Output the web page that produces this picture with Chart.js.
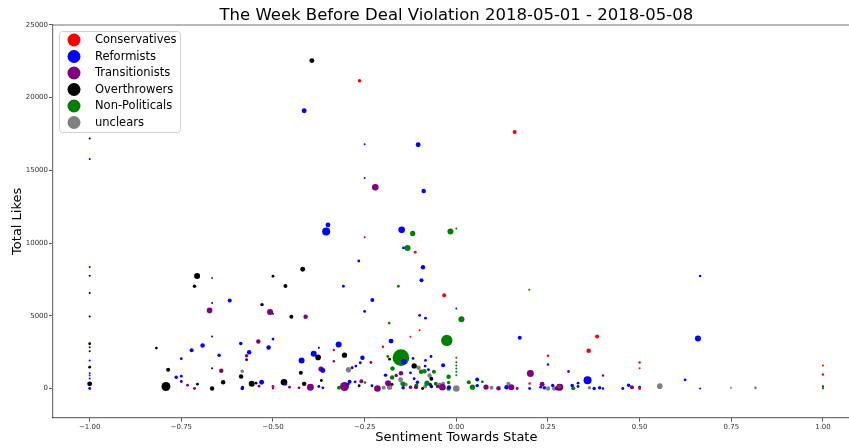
<!DOCTYPE html>
<html><head><meta charset="utf-8">
<script src="https://cdn.jsdelivr.net/npm/chart.js@4/dist/chart.umd.min.js"></script>
<style>
html,body{margin:0;padding:0;background:#fff;overflow:hidden;width:849px;height:448px;}
#wrap{position:relative;width:849px;height:448px;overflow:hidden;background:#fff;}
canvas{display:block;}
</style></head><body>
<div id="wrap"><canvas id="c" width="868" height="448"></canvas></div>
<script>
const titleText = 'The Week Before Deal Violation 2018-05-01 - 2018-05-08';
const xTitle = 'Sentiment Towards State';
const yTitle = 'Total Likes';
const xTicks = [-1, -0.75, -0.5, -0.25, 0, 0.25, 0.5, 0.75, 1];
const yTicks = [0, 5000, 10000, 15000, 20000, 25000];
const seriesNames = ['Conservatives', 'Reformists', 'Transitionists', 'Overthrowers', 'Non-Politicals', 'unclears'];

// each point: [sentiment, total likes, number of posts]
const conservatives = [[-0.264,21170,3],[0.159,17640,4],[-0.112,9370,2],[-0.033,6410,4],[-0.1,4000,1],[-0.125,3560,1],[-0.2,2870,1.5],[-0.334,2650,1.5],[0,2110,1],[0.384,3580,4],[0.361,2600,5],[0.25,2250,1.5],[0.5,1790,1.5],[0.5,1400,1],[0.2,340,1.5],[0.281,140,5],[0.5,0,2],[1,1580,1],[1,960,1.5],[-0.5,100,1.5]];
const reformists = [[-0.415,19100,6],[-0.104,16760,6],[-0.25,16790,1],[-0.25,14470,1],[-0.089,13590,5],[-0.35,11250,6],[-0.355,10800,16],[-0.149,10910,11],[-0.144,9670,2],[-0.266,8770,2],[-0.091,8340,5],[-0.095,7440,4],[-0.308,7030,2],[-1,15780,1],[-1,8360,1],[-0.618,6060,4],[-0.666,5880,1],[-0.5,5150,1],[-0.229,6080,4],[0,5510,1],[-0.25,5300,2],[-0.1,5030,2],[-0.084,4840,2],[0.665,7740,1.5],[0.659,3440,9],[0.173,3490,4],[0.25,1650,1.5],[0.358,570,16],[0.624,600,2],[0.665,0,1],[1,160,1],[-0.321,3030,9],[-0.178,3260,6],[-0.389,2390,9],[-0.256,2110,5],[-0.143,1840,7],[-0.262,1770,2],[-0.274,1540,2],[-0.284,1430,2],[-0.084,1930,2],[-0.069,2200,2],[-0.036,1600,4],[-0.118,2070,2],[-0.193,920,3],[-0.125,1080,2],[-0.115,670,2],[-0.076,1290,2],[-0.085,1540,2],[-0.291,460,4],[-0.23,190,2],[-0.276,460,2],[-0.295,300,2],[-0.145,50,3],[-0.106,430,3],[-0.071,280,3],[0.057,620,4],[0.057,200,3],[-0.02,90,4],[0.137,90,5],[0.2,0,2],[0.24,50,3],[0.23,90,2],[0.263,210,3],[0.282,90,12],[0.316,210,3],[0.332,370,2],[0.332,140,2],[0.376,0,3],[0.391,50,3],[0.4,0,1.5],[0.454,0,2],[0.47,230,3],[0.5,90,2],[-0.75,2050,2],[-0.75,850,2],[-0.75,480,2],[-0.764,780,3],[-0.722,2640,4],[-0.692,2960,5],[-0.666,3580,1],[-0.647,2290,3],[-0.588,3100,3],[-0.565,2500,5],[-0.572,1980,2],[-0.584,0,3],[-0.531,430,6],[-0.512,2820,5],[-0.5,3400,2],[-0.5,0,1],[-0.466,300,2],[-0.422,1930,9],[-0.364,1240,6],[-0.375,140,2],[-0.364,50,2],[-1,2840,1],[-1,1930,1],[-1,1050,1],[-1,0,2],[-1,690,1]];
const transitionists = [[-0.221,13840,11],[-0.25,10400,1],[-0.666,7600,1],[-0.673,5370,8],[-0.508,5260,9],[-0.411,4930,5],[-0.54,3240,5],[-0.572,2250,3],[-0.641,1220,5],[-0.733,230,2],[-0.714,0,2],[-0.538,160,2],[-0.5,140,2],[-0.455,90,2],[-0.429,50,2],[-0.398,90,12],[-0.369,1340,7],[-1,890,1],[-0.334,1880,1.5],[-0.233,1790,2],[-0.305,140,20],[-0.259,500,4],[-0.215,0,11],[-0.186,370,9],[-0.164,900,3],[-0.151,1050,5],[-0.125,90,3],[-0.11,90,4],[-0.051,140,3],[-0.038,90,11],[0.081,100,7],[0.115,20,5],[0.15,90,9],[0.166,0,2],[0.202,1030,12],[0.234,300,6],[0.275,20,5],[0.306,1170,2],[0.4,900,1.5],[0.479,90,4]];
const overthrowers = [[-0.394,22550,6],[-1,17200,1],[-1,7760,1],[-0.707,7740,9],[-0.5,7720,2],[-0.419,8200,6],[-0.714,7030,3],[-0.466,7050,4],[-1,6570,1],[-1,4960,1],[-0.53,5770,3],[-0.45,4940,4],[-1,3080,2],[-1,2570,1],[-1,1470,2],[-1,320,6],[-0.818,2780,2],[-0.786,1290,4],[-0.792,140,20],[-0.706,300,2],[-0.666,1400,1],[-0.666,0,5],[-0.636,430,5],[-0.587,830,5],[-0.583,90,2],[-0.558,320,9],[-0.546,370,2],[-0.47,430,11],[-0.415,320,5],[-0.424,1080,4],[-0.377,2140,8],[-0.375,2800,1],[-0.368,550,2],[-0.305,2290,7],[-0.265,190,2],[-0.115,1550,7],[-0.182,2020,2],[-0.068,670,4],[-0.175,280,2],[-0.068,140,3],[-0.092,0,2],[-0.125,90,2]];
const nonPoliticals = [[-0.016,10800,9],[0,11000,1],[-0.119,10660,7],[-0.133,9670,9],[-0.158,7030,2],[0.199,6800,1],[0.014,4770,9],[-0.183,4500,2],[-0.026,3310,32],[-0.151,2120,70],[-0.187,2200,2],[-0.174,1380,5],[-0.096,1150,5],[-0.087,1190,5],[-0.061,1150,4],[0,1810,1],[0,1580,1],[0,1380,1],[0,1150,1],[0,920,1],[-0.175,760,5],[-0.146,320,6],[-0.021,810,5],[-0.021,410,3],[-0.249,410,1.5],[-0.32,50,4],[-0.144,280,4],[-0.109,210,4],[-0.056,320,4],[-0.021,0,5],[-0.08,370,7],[0.034,430,4],[0.044,90,7],[0.071,460,2],[0.319,20,4],[1,0,1]];
const unclears = [[-0.584,1190,3],[-0.294,1290,7],[-0.103,1430,5],[-0.152,600,6],[-0.182,90,7],[-0.198,50,4],[-0.138,280,4],[-0.085,140,4],[-0.073,900,5],[-0.036,320,4],[0,0,11],[-0.045,280,4],[0.096,50,4],[0.142,320,4],[0.25,0,5],[0.267,0,5],[0.363,50,3],[0.555,160,8],[0.749,50,1],[0.816,50,2],[1,70,1]];

const seriesData = [conservatives, reformists, transitionists, overthrowers, nonPoliticals, unclears];
const seriesColors = ['#ff0000', '#0000ff', '#800080', '#000000', '#008000', '#808080'];

const FONT = 'DejaVu Sans';

const datasets = seriesNames.map((name, i) => ({
  label: name,
  data: seriesData[i].map(([x, y, n]) => ({x, y, r: Math.sqrt(n)})),
  backgroundColor: seriesColors[i],
  borderWidth: 0,
  hoverRadius: 0,
  hoverBorderWidth: 0
}));

const framePlugin = {
  id: 'frame',
  afterDraw(chart) {
    const {ctx, chartArea: a} = chart;
    ctx.save();
    ctx.strokeStyle = 'rgba(0,0,0,0.55)';
    ctx.lineWidth = 1.2;
    ctx.beginPath();
    ctx.moveTo(a.left, a.top); ctx.lineTo(a.right, a.top);
    ctx.stroke();
    ctx.restore();
  }
};

const legendPlugin = {
  id: 'boxLegend',
  afterDraw(chart) {
    const {ctx, chartArea: a} = chart;
    const x0 = a.left + 6, y0 = a.top + 6, w = 121, h = 101;
    ctx.save();
    ctx.fillStyle = 'rgba(255,255,255,0.85)';
    ctx.strokeStyle = '#d0d0d0';
    ctx.lineWidth = 1;
    ctx.beginPath();
    ctx.roundRect(x0 + 0.5, y0 + 0.5, w, h, 3);
    ctx.fill(); ctx.stroke();
    ctx.font = '11.5px "' + FONT + '"';
    ctx.textBaseline = 'middle';
    ctx.textAlign = 'left';
    chart.data.datasets.forEach((ds, i) => {
      const cy = y0 + 9 + i * 16.5;
      ctx.fillStyle = ds.backgroundColor;
      ctx.beginPath();
      ctx.arc(x0 + 15, cy, 6.5, 0, Math.PI * 2);
      ctx.fill();
      ctx.fillStyle = '#000';
      ctx.fillText(ds.label, x0 + 36, cy + 0.5);
    });
    ctx.restore();
  }
};

const fmtX = v => (v < 0 ? '\u2212' : '') + Math.abs(v).toFixed(2);

new Chart(document.getElementById('c'), {
  type: 'bubble',
  data: {datasets},
  options: {
    responsive: false,
    animation: false,
    events: [],
    layout: {padding: 0},
    plugins: {
      legend: {display: false},
      tooltip: {enabled: false},
      title: {
        display: true, text: titleText, fullSize: false,
        color: '#000',
        font: {family: FONT, size: 16.5, weight: 'normal', lineHeight: 1.15},
        padding: {top: 6, bottom: 0}
      }
    },
    scales: {
      x: {
        type: 'linear', min: -1.1, max: 1.1,
        afterBuildTicks: ax => { ax.ticks = xTicks.map(v => ({value: v})); },
        afterFit: ax => { ax.height = 30.4; },
        ticks: {callback: v => fmtX(v), font: {family: FONT, size: 7}, color: '#333', padding: 1, maxRotation: 0, autoSkip: false},
        grid: {drawOnChartArea: false, drawTicks: true, tickLength: 4, color: '#555'},
        border: {display: true, color: 'rgba(0,0,0,0.55)', width: 1.2},
        title: {display: true, text: xTitle, color: '#000', font: {family: FONT, size: 13, lineHeight: 1.2}, padding: {top: 0, bottom: 2.2}}
      },
      y: {
        type: 'linear', min: -2000, max: 25000,
        afterBuildTicks: ax => { ax.ticks = yTicks.map(v => ({value: v})); },
        afterFit: ax => { ax.width = 53; },
        ticks: {callback: v => String(v), font: {family: FONT, size: 7}, color: '#333', padding: 1, autoSkip: false},
        grid: {drawOnChartArea: false, drawTicks: true, tickLength: 4, color: '#555'},
        border: {display: true, color: 'rgba(0,0,0,0.55)', width: 1.2},
        title: {display: true, text: yTitle, color: '#000', font: {family: FONT, size: 13, lineHeight: 1.2}, padding: {top: 10, bottom: 0}}
      }
    }
  },
  plugins: [framePlugin, legendPlugin]
});
</script>
</body></html>
